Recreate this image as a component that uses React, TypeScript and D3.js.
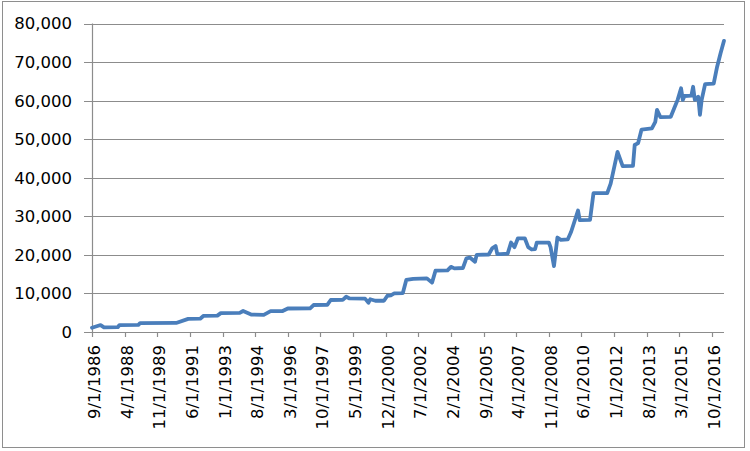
import React from "react";
import * as d3 from "d3";

const months: string[] = [
  "1986-09","1987-02","1987-04","1987-12","1988-01","1988-12","1989-01","1990-10",
  "1991-05","1991-12","1992-02","1992-10","1992-12","1993-11","1994-01","1994-06",
  "1995-01","1995-05","1995-12","1996-03","1997-04","1997-06","1998-02","1998-04",
  "1998-11","1999-01","1999-03","1999-12","2000-02","2000-03","2000-06","2000-11",
  "2001-01","2001-03","2001-05","2001-10","2001-12","2002-04","2002-12","2003-03",
  "2003-05","2003-12","2004-02","2004-04","2004-09","2004-11","2005-01","2005-04",
  "2005-05","2005-12","2006-02","2006-04","2006-05","2006-07","2006-11","2007-01",
  "2007-03","2007-05","2007-09","2007-11","2008-01","2008-03","2008-04","2008-11",
  "2008-12","2009-02","2009-04","2009-06","2009-10","2009-12","2010-04","2010-05",
  "2010-11","2011-01","2011-09","2011-11","2012-03","2012-06","2012-12","2013-01",
  "2013-03","2013-05","2013-11","2014-01","2014-02","2014-04","2014-10","2014-12",
  "2015-02","2015-04","2015-05","2015-06","2015-10","2015-11","2015-12","2016-02",
  "2016-03","2016-04","2016-06","2016-11","2017-01","2017-03","2017-05"
];

const values: number[] = [
  1100,1800,1200,1250,1800,1850,2300,2350,
  3400,3450,4200,4250,4900,4950,5450,4500,
  4450,5400,5450,6100,6150,7000,7050,8300,
  8350,9150,8700,8650,7600,8500,8100,8100,
  9400,9500,10000,10100,13500,13800,13900,12800,
  15900,16000,16900,16500,16600,19100,19300,18200,
  20000,20100,21700,22300,20200,20200,20300,23200,
  22000,24300,24300,22000,21400,21500,23200,23200,
  22000,17100,24500,23900,24000,26000,31500,29000,
  29100,36000,36000,38500,46700,43000,43100,48500,
  49000,52500,52800,54500,57600,55700,55800,58000,
  60200,63200,60200,61200,61300,63600,60200,61000,
  56300,60200,64300,64400,68800,72300,75500
];

const xTickLabels: string[] = [
  "9/1/1986","4/1/1988","11/1/1989","6/1/1991","1/1/1993","8/1/1994","3/1/1996",
  "10/1/1997","5/1/1999","12/1/2000","7/1/2002","2/1/2004","9/1/2005","4/1/2007",
  "11/1/2008","6/1/2010","1/1/2012","8/1/2013","3/1/2015","10/1/2016"
];

const yTicks: number[] = [0, 10000, 20000, 30000, 40000, 50000, 60000, 70000, 80000];

const startMonth = "1986-09";
const endMonth = "2017-05";

function monthIndex(s: string): number {
  const [y, m] = s.split("/").length === 3
    ? [Number(s.split("/")[2]), Number(s.split("/")[0])]
    : [Number(s.split("-")[0]), Number(s.split("-")[1])];
  const [y0, m0] = startMonth.split("-").map(Number);
  return (y - y0) * 12 + (m - m0);
}

export default function App() {
  const W = 750, H = 451;
  const left = 92, right = 724, top = 23.5, bottom = 332;
  const x = d3.scaleLinear().domain([0, monthIndex(endMonth)]).range([left, right]);
  const y = d3.scaleLinear().domain([0, 80000]).range([bottom, top]);
  const fmt = d3.format(",");
  const data = months.map((m, i) => ({ m: monthIndex(m), v: values[i] }));
  const line = d3.line<{ m: number; v: number }>()
    .x(d => x(d.m))
    .y(d => y(d.v))
    .curve(d3.curveLinear);
  const grid = "#8c8c8c";
  const font = "DejaVu Sans, Verdana, sans-serif";
  return (
    <svg width={W} height={H} style={{ position: "absolute", left: 0, top: 0, background: "#fff" }}>
      <rect x={2.5} y={1.5} width={742} height={446} fill="#fff" stroke="#8e8e8e" strokeWidth={1} />
      {yTicks.map(t => (
        <g key={t}>
          <line x1={84} x2={right} y1={Math.round(y(t)) + 0.5} y2={Math.round(y(t)) + 0.5} stroke={grid} strokeWidth={1.2} />
          <text x={72} y={y(t)} dy="0.36em" textAnchor="end" fontFamily={font} fontSize={16.5} fill="#000">{fmt(t)}</text>
        </g>
      ))}
      <line x1={left + 0.5} x2={left + 0.5} y1={top} y2={bottom} stroke={grid} strokeWidth={1.2} />
      {xTickLabels.map(lbl => {
        const xi = Math.round(x(monthIndex(lbl))) + 0.5;
        return (
          <g key={lbl}>
            <line x1={xi} x2={xi} y1={bottom} y2={bottom + 5} stroke={grid} strokeWidth={1.2} />
            <text transform={`translate(${xi + 1.5},${bottom + 13}) rotate(-90)`} dy="0.36em" textAnchor="end" fontFamily={font} fontSize={16.5} fill="#000">{lbl}</text>
          </g>
        );
      })}
      <path d={line(data) || ""} fill="none" stroke="#4a7ebb" strokeWidth={3.8} strokeLinejoin="round" strokeLinecap="round" />
    </svg>
  );
}
